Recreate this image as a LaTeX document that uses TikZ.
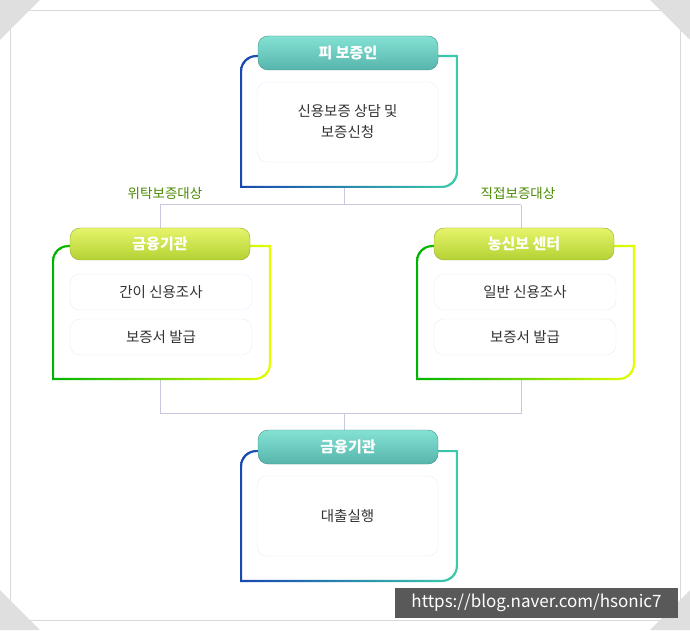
\documentclass[tikz,border=0pt]{standalone}
\usepackage{fontspec}
\setmainfont{Noto Sans CJK KR}
\usetikzlibrary{positioning}
\definecolor{linkgray}{HTML}{C8C8DE}
\definecolor{labgreen}{HTML}{4A8A00}
\definecolor{txtgray}{HTML}{333333}
\definecolor{tealtop}{HTML}{84E2D4}
\definecolor{tealbot}{HTML}{56B4AC}
\definecolor{limetop}{HTML}{E6F46A}
\definecolor{limebot}{HTML}{B4D234}
\definecolor{framedeep}{HTML}{1848B0}
\definecolor{frameteal}{HTML}{3CCCAA}
\tikzset{
  tealhead/.style={rounded corners=10pt, minimum width=180pt, minimum height=34pt,
    top color=tealtop, bottom color=tealbot, draw=tealbot!80!black,
    text=white, font=\bfseries\fontsize{15}{17}\selectfont},
  limehead/.style={rounded corners=10pt, minimum width=180pt, minimum height=32pt,
    top color=limetop, bottom color=limebot, draw=limebot!80!black,
    text=white, font=\bfseries\fontsize{15}{17}\selectfont},
  subbox/.style={rounded corners=10pt, draw=blue!8, fill=white, text=txtgray,
    align=center, font=\fontsize{14.5}{21}\selectfont},
  grouplabel/.style={text=labgreen, font=\fontsize{13.5}{15}\selectfont},
  link/.style={draw=linkgray, line width=1pt}
}
% gradient frame with rounded top-left and bottom-right corners
\newcommand\grpframe[6]{%
  \begin{scope}[even odd rule]
    \clip
      ({#1+16},#2) -- (#3,#2) -- (#3,{#4+16}) arc[start angle=0,end angle=-90,radius=16]
      -- (#1,#4) -- (#1,{#2-16}) arc[start angle=180,end angle=90,radius=16] -- cycle
      ({#1+16},{#2-2.2}) -- ({#3-2.2},{#2-2.2}) -- ({#3-2.2},{#4+16})
      arc[start angle=0,end angle=-90,radius=13.8]
      -- ({#1+2.2},{#4+2.2}) -- ({#1+2.2},{#2-16}) arc[start angle=180,end angle=90,radius=13.8] -- cycle;
    \shade[left color=#5, right color=#6] (#1,#4) rectangle (#3,#2);
  \end{scope}}
\begin{document}
\begin{tikzpicture}[x=1pt,y=1pt]
  \useasboundingbox (0,0) rectangle (690,630);
  \fill[white] (0,0) rectangle (690,630);
  \draw[gray!30] (10,10) rectangle (680,620);
  \foreach \cx/\cy/\dx/\dy in {0/630/1/-1, 690/630/-1/-1, 0/0/1/1, 690/0/-1/1}
    \fill[gray!25] (\cx,\cy) -- ({\cx+40*\dx},\cy) -- (\cx,{\cy+40*\dy}) -- cycle;

  % connectors
  \coordinate (topout) at (344,442);
  \coordinate (upjoin) at (344,425);
  \coordinate (upleft) at (160,425);
  \coordinate (upright) at (521,425);
  \coordinate (loleft) at (160,250);
  \coordinate (loright) at (521,250);
  \coordinate (lojoin) at (344,217);
  \path[link] (topout) -- (upjoin) (upleft) -- (upright);
  \path[link] (upleft) -- (160,402) (upright) -- (521,402);
  \path[link] (loleft) |- (lojoin) (loright) |- (lojoin) (lojoin) -- (344,200);

  % frames
  \grpframe{240}{575}{458}{442}{framedeep}{frameteal}
  \grpframe{52}{385}{271}{250}{green!70!black}{yellow!60!lime}
  \grpframe{416}{385}{635}{250}{green!70!black}{yellow!60!lime}
  \grpframe{240}{180}{458}{48}{framedeep}{frameteal}

  % top group
  \node[tealhead] (guarantee) at (348,577) {피 보증인};
  \node[subbox, minimum width=181pt, minimum height=80pt] (consult) at (347.5,508)
    {신용보증 상담 및\\보증신청};
  \node[grouplabel] (entrust) at (165,437) {위탁보증대상};
  \node[grouplabel] (direct) at (518,437) {직접보증대상};

  % middle left
  \node[limehead] (bankA) at (160,386) {금융기관};
  \node[subbox, minimum width=182pt, minimum height=36pt] (quickcheck) at (161,338) {간이 신용조사};
  \node[subbox, minimum width=182pt, minimum height=36pt] (issueA) at (161,293) {보증서 발급};

  % middle right
  \node[limehead] (center) at (524,386) {농신보 센터};
  \node[subbox, minimum width=182pt, minimum height=36pt] (fullcheck) at (525,338) {일반 신용조사};
  \node[subbox, minimum width=182pt, minimum height=36pt] (issueB) at (525,293) {보증서 발급};

  % bottom group
  \node[tealhead] (bankB) at (348,183) {금융기관};
  \node[subbox, minimum width=181pt, minimum height=80pt] (loan) at (347.5,114) {대출실행};

  % watermark
  \node[fill=black!65, text=white, minimum width=283pt, minimum height=30pt,
    inner sep=0pt, font=\fontsize{17}{19}\selectfont] (mark) at (536.5,27)
    {https://blog.naver.com/hsonic7};
\end{tikzpicture}
\end{document}
